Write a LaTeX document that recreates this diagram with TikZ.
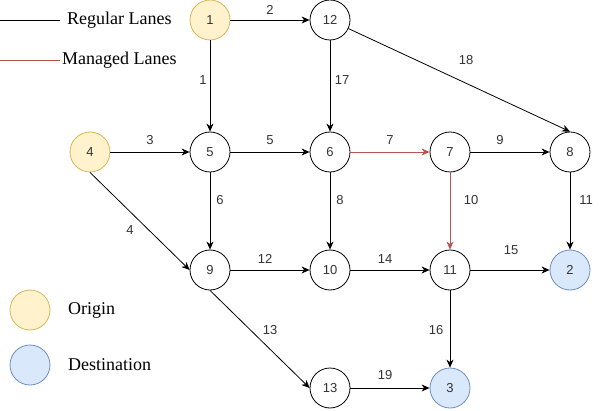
\documentclass[tikz,border=0pt]{standalone}
\usepackage{fontspec}
\setmainfont{Liberation Serif}
\newfontfamily\nodefont{Liberation Sans}
\usetikzlibrary{arrows.meta}
\definecolor{origfill}{HTML}{FFF2CC}
\definecolor{origdraw}{HTML}{D6B656}
\definecolor{destfill}{HTML}{DAE8FC}
\definecolor{destdraw}{HTML}{6C8EBF}
\definecolor{mgd}{HTML}{B85450}
\begin{document}
\begin{tikzpicture}[x=1pt,y=-1pt,
  vert/.style={circle,draw=black,line width=0.8pt,minimum size=40pt,inner sep=0pt,font=\nodefont\fontsize{13}{15}\selectfont,text=black!80},
  orig/.style={vert,fill=origfill,draw=origdraw},
  dest/.style={vert,fill=destfill,draw=destdraw},
  edge/.style={draw=black,line width=0.8pt,-{Stealth[length=8pt,width=7pt,inset=2.5pt]}},
  medge/.style={edge,draw=mgd,-{Stealth[length=8pt,width=7pt,inset=2.5pt,fill=mgd]}},
  lbl/.style={font=\nodefont\fontsize{13}{15}\selectfont,text=black!80,inner sep=1pt},
  legtext/.style={font=\fontsize{18}{21}\selectfont,anchor=west,inner sep=0pt}]
\useasboundingbox (0,0) rectangle (601,411);
% legend
\coordinate (rl0) at (0,20);
\coordinate (rl1) at (60,20);
\draw[black,line width=0.8pt] (rl0) -- (rl1);
\node[legtext] (rltxt) at (67,20) {Regular Lanes};
\coordinate (ml0) at (0,60);
\coordinate (ml1) at (60,60);
\draw[mgd,line width=0.8pt] (ml0) -- (ml1);
\node[legtext] (mltxt) at (62,60) {Managed Lanes};
\node[orig] (lo) at (30,310) {};
\node[legtext] (lotxt) at (68,310) {Origin};
\node[dest] (ld) at (30,365) {};
\node[legtext] (ldtxt) at (68,365) {Destination};
% nodes
\node[orig] (n1) at (210,20) {1};
\node[vert] (n12) at (330,20) {12};
\node[orig] (n4) at (90,152) {4};
\node[vert] (n5) at (210,152) {5};
\node[vert] (n6) at (330,152) {6};
\node[vert] (n7) at (450,152) {7};
\node[vert] (n8) at (570,152) {8};
\node[vert] (n9) at (210,270) {9};
\node[vert] (n10) at (330,270) {10};
\node[vert] (n11) at (450,270) {11};
\node[dest] (n2) at (570,270) {2};
\node[vert] (n13) at (330,388) {13};
\node[dest] (n3) at (450,388) {3};
% edges
\draw[edge] (n1) -- (n12) node[lbl] at (270,10) {2};
\draw[edge] (n1) -- (n5) node[lbl] at (203,80) {1};
\draw[edge] (n12) -- (n6) node[lbl] at (342,80) {17};
\draw[edge] (n12) -- (n8.north) node[lbl] at (466,60) {18};
\draw[edge] (n4) -- (n5) node[lbl] at (150,140) {3};
\draw[edge] (n5) -- (n6) node[lbl] at (270,140) {5};
\draw[medge] (n6) -- (n7) node[lbl] at (390,140) {7};
\draw[edge] (n7) -- (n8) node[lbl] at (500,140) {9};
\draw[edge] (n4.south) -- (n9.west) node[lbl] at (130,230) {4};
\draw[edge] (n5) -- (n9) node[lbl] at (220,200) {6};
\draw[edge] (n6) -- (n10) node[lbl] at (340,200) {8};
\draw[medge] (n7) -- (n11) node[lbl] at (471,200) {10};
\draw[edge] (n8) -- (n2) node[lbl] at (586,200) {11};
\draw[edge] (n9) -- (n10) node[lbl] at (265,259) {12};
\draw[edge] (n10) -- (n11) node[lbl] at (385,259) {14};
\draw[edge] (n11) -- (n2) node[lbl] at (511,250) {15};
\draw[edge] (n9.south) -- (n13.west) node[lbl] at (270,330) {13};
\draw[edge] (n11) -- (n3) node[lbl] at (436,330) {16};
\draw[edge] (n13) -- (n3) node[lbl] at (385,375) {19};
\end{tikzpicture}
\end{document}
